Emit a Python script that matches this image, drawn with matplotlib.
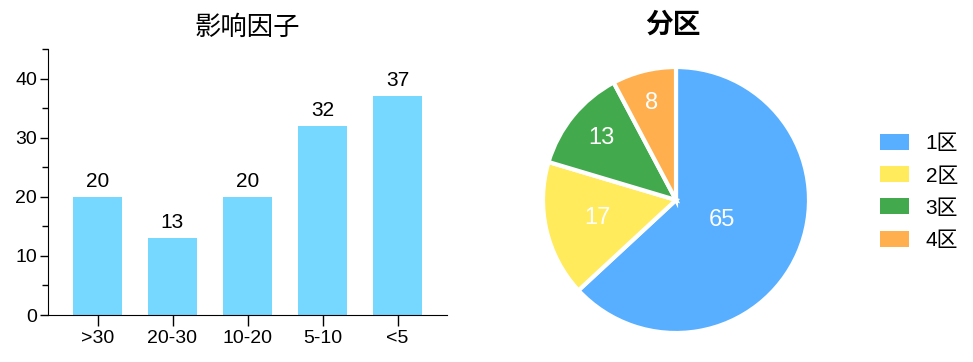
import numpy as np
import matplotlib
matplotlib.use('Agg')
import matplotlib.pyplot as plt
from matplotlib.patches import Patch

plt.rcParams['font.family'] = ['Liberation Sans', 'Noto Sans CJK SC', 'DejaVu Sans']

# Data
bar_cats = ['>30', '20-30', '10-20', '5-10', '<5']
bar_vals = [20, 13, 20, 32, 37]
pie_labels = ['1区', '2区', '3区', '4区']
pie_vals = [65, 17, 13, 8]
pie_colors = ['#58AFFF', '#FFEB5B', '#42AA4C', '#FFAF4D']
label_r = [0.38, 0.61, 0.73, 0.75]

fig = plt.figure(figsize=(9.73, 3.62), dpi=100)

# Bar chart
ax = fig.add_axes([48 / 973, 47 / 362, 399 / 973, 266 / 362])
x = np.arange(len(bar_cats))
ax.bar(x, bar_vals, width=0.65, color='#76D7FF')
for xi, v in zip(x, bar_vals):
    ax.text(xi, v + 1.0, str(v), ha='center', va='bottom', fontsize=15)
ax.set_xlim(-0.66, 4.66)
ax.set_ylim(0, 45)
ax.set_xticks(x)
ax.set_xticklabels(bar_cats, fontsize=14)
ax.set_yticks([0, 10, 20, 30, 40])
ax.set_yticks([5, 15, 25, 35, 45], minor=True)
ax.tick_params(axis='y', labelsize=14, length=6, width=1, pad=2)
ax.tick_params(axis='y', which='minor', length=4, width=1)
ax.tick_params(axis='x', length=8, width=1, pad=3)
for s in ['top', 'right']:
    ax.spines[s].set_visible(False)
ax.set_title('影响因子', fontsize=19, pad=10)

# Pie chart
ax2 = fig.add_axes([543 / 973, 29 / 362, 266 / 973, 266 / 362])
wedges, _ = ax2.pie(pie_vals, colors=pie_colors, startangle=90, counterclock=False,
                    wedgeprops=dict(edgecolor='white', linewidth=3))
for w, v, r in zip(wedges, pie_vals, label_r):
    ang = np.deg2rad((w.theta1 + w.theta2) / 2)
    ax2.text(r * np.cos(ang), r * np.sin(ang), str(v), ha='center', va='center',
             color='white', fontsize=17)
ax2.set_xlim(-1, 1)
ax2.set_ylim(-1, 1)
fig.text(673 / 973, 1 - 26 / 362, '分区', ha='center', va='center', fontsize=20, fontweight='bold')

handles = [Patch(facecolor=c, edgecolor='none') for c in pie_colors]
fig.legend(handles, pie_labels, loc='center left', bbox_to_anchor=(861 / 973, 1 - 192 / 362),
           frameon=False, fontsize=15, handlelength=1.4, handleheight=0.8,
           handletextpad=0.8, labelspacing=0.62)

fig.savefig('out.png', dpi=100)
